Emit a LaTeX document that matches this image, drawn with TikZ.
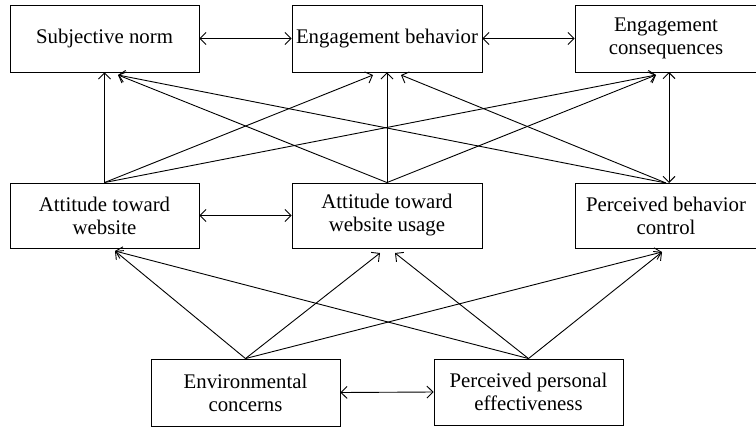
\documentclass[tikz,border=0pt]{standalone}
\usepackage{fontspec}
\setmainfont{Liberation Serif}
\usetikzlibrary{arrows.meta}
\begin{document}
\begin{tikzpicture}[x=1pt,y=-1pt,
  box/.style={draw,line width=0.9pt,inner sep=0pt,align=center,font=\fontsize{20.8}{23}\selectfont},
  arr/.style={line width=0.9pt,-{Straight Barb[length=6pt,width=12pt]}},
  barr/.style={line width=0.9pt,{Straight Barb[length=6pt,width=12pt]}-{Straight Barb[length=6pt,width=12pt]}}]
\useasboundingbox (0,0) rectangle (756,429);
% top row
\node[box,minimum width=189pt,minimum height=67pt] (sn) at (104.5,38.5) {Subjective norm};
\node[box,minimum width=190pt,minimum height=67pt] (eb) at (387,38.5) {Engagement behavior};
\node[box,minimum width=182pt,minimum height=67pt] (ec) at (666,38.5) {Engagement\\consequences};
% middle row
\node[box,minimum width=189pt,minimum height=65pt] (aw) at (104.5,215.5) {Attitude toward\\website};
\node[box,minimum width=190pt,minimum height=65pt] (au) at (387,215.5) {Attitude toward\\website usage};
\node[box,minimum width=182pt,minimum height=65pt] (pbc) at (666,215.5) {Perceived behavior\\control};
% bottom row
\node[box,minimum width=189pt,minimum height=67pt] (env) at (245.5,392.5) {Environmental\\concerns};
\node[box,minimum width=189pt,minimum height=66pt] (ppe) at (528.5,392) {Perceived personal\\effectiveness};
% target points
\coordinate (snin) at (118,75);
\coordinate (ebinl) at (373,75);
\coordinate (ebinr) at (401,75);
\coordinate (ecin) at (656,75);
\coordinate (ecb) at (669,72);
\coordinate (pbct) at (669,183);
\coordinate (pbcs) at (666,183);
\coordinate (awin) at (115,251);
\coordinate (auinl) at (380,253);
\coordinate (auinr) at (395,253);
\coordinate (pbcin) at (662,252);
% horizontal links
\draw[barr] (sn.east) -- (eb.west);
\draw[barr] (eb.east) -- (ec.west);
\draw[barr] (aw.east) -- (au.west);
\draw[barr] (env.east) -- (ppe.west);
% middle to top
\draw[arr] (aw.north) -- (sn.south);
\draw[arr] (aw.north) -- (ebinl);
\draw[arr] (aw.north) -- (ecin);
\draw[arr] (au.north) -- (snin);
\draw[arr] (au.north) -- (eb.south);
\draw[arr] (au.north) -- (ecin);
\draw[arr] (pbcs) -- (snin);
\draw[arr] (pbcs) -- (ebinr);
\draw[barr] (ecb) -- (pbct);
% bottom to middle
\draw[arr] (env.north) -- (awin);
\draw[arr] (env.north) -- (auinl);
\draw[arr] (env.north) -- (pbcin);
\draw[arr] (ppe.north) -- (awin);
\draw[arr] (ppe.north) -- (auinr);
\draw[arr] (ppe.north) -- (pbcin);
\end{tikzpicture}
\end{document}
